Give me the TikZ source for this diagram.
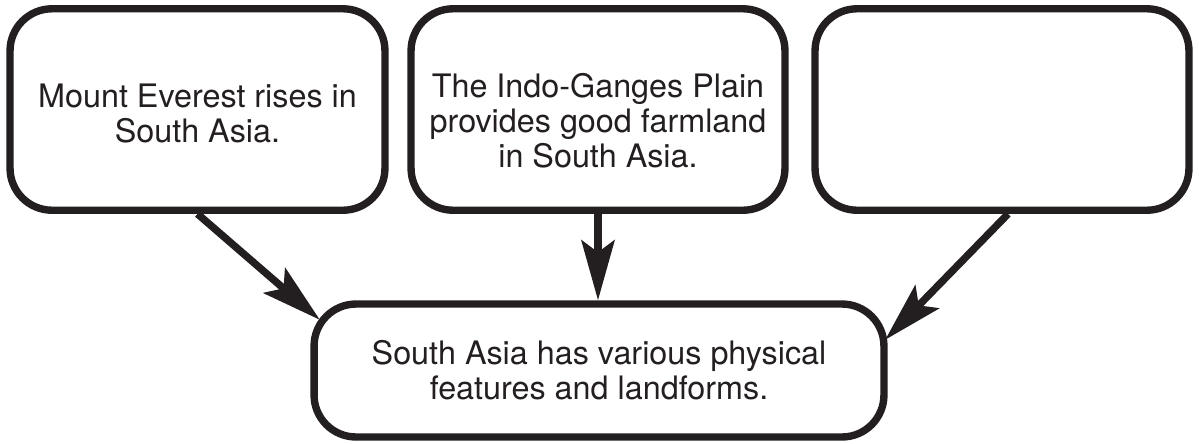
\documentclass[tikz,border=0pt]{standalone}
\usepackage{fontspec}
\setmainfont{TeX Gyre Heros}
\usetikzlibrary{arrows.meta,calc}
\definecolor{ink}{HTML}{231F20}
\newcommand{\inkcolor}{ink}
\newcommand{\fillcolor}{white}
\tikzset{
  fact box/.style={draw=\inkcolor,line width=4.2pt,rounded corners=0.84cm,
    fill=\fillcolor,align=center,text=\inkcolor,
    font=\fontsize{18.4}{20}\selectfont},
  fact arrow/.style={draw=\inkcolor,line width=4.2pt,
    -{Stealth[length=1.2cm,width=0.66cm,inset=0.24cm]}}
}
\newcommand{\factbox}[6][]{
    % Rounded Fact Box
    % \factbox[options]{name}{position}{width}{height}{text}
    % example:
    %   \factbox{f}{(0,0)}{7.5cm}{4cm}{Some fact.}
    %   \draw[fact arrow] (f.south) -- ++(0,50);
    \node (#2) [fact box,minimum width=#4,minimum height=#5,#1] at #3 {#6};
}

\begin{document}
\begin{tikzpicture}[x=0.02cm,y=-0.02cm]
  \useasboundingbox (0,0) rectangle (1199,443);
  \factbox[text height=37.5pt]{everest}{(197.5,109.5)}{7.5cm}{4.03cm}
      {Mount Everest rises in\\South Asia.}
  \factbox[text height=66.5pt]{plain}{(598,109.5)}{7.48cm}{4.03cm}
      {The Indo-Ganges Plain\\provides good farmland\\in South Asia.}
  \factbox{empty}{(1002,109.5)}{7.48cm}{4.03cm}{}
  \factbox{summary}{(599,370.5)}{11.4cm}{2.66cm}
      {South Asia has various physical\\features and landforms.}
  % arrow ends on the rounded corners
  \coordinate (tipL) at ($(summary.north west)+(9.5,19.5)$);
  \coordinate (tipR) at ($(summary.north east)+(-2.5,39.5)$);
  \coordinate (startR) at ($(empty.south)+(6,0)$);
  \draw[fact arrow] (everest.south) -- (tipL);
  \draw[fact arrow] (plain.south) -- (plain.south |- summary.north);
  \draw[fact arrow] (startR) -- (tipR);
\end{tikzpicture}
\end{document}
